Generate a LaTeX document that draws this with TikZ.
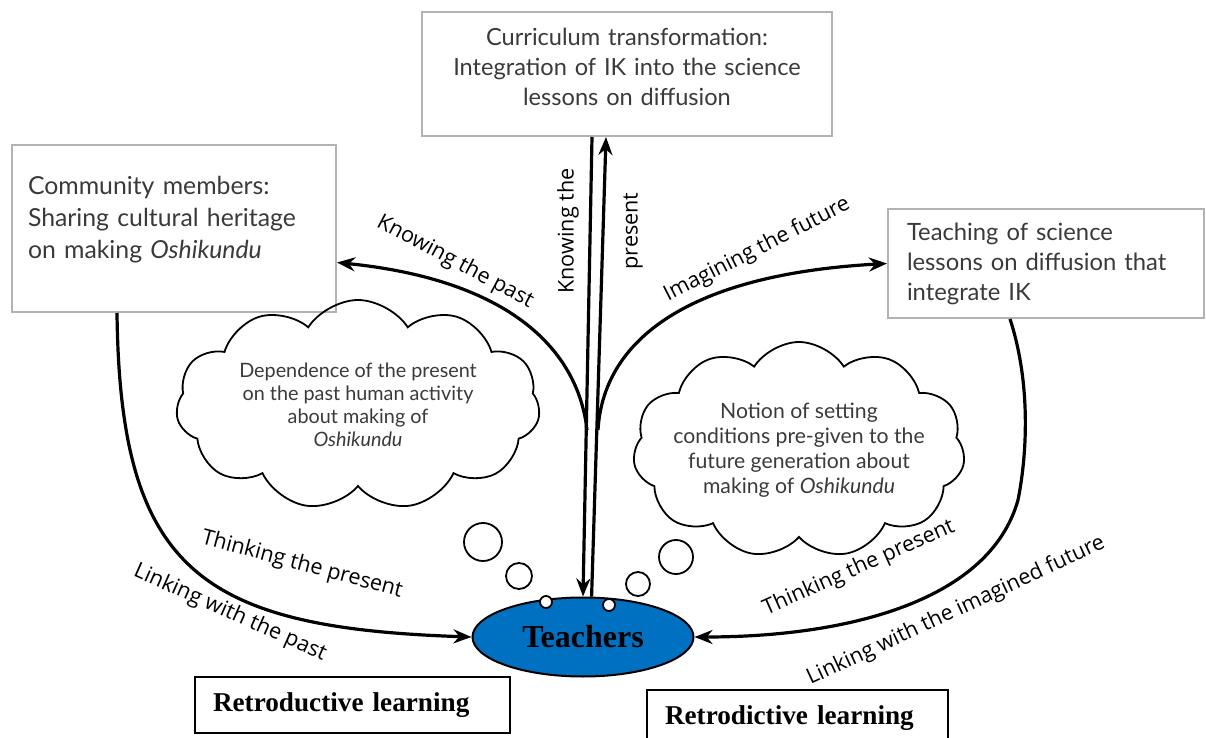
\documentclass[tikz,border=0pt]{standalone}
\usepackage{fontspec}
\setmainfont{Lato}
\newfontfamily\lblfont{Open Sans}
\newfontfamily\titlefont{Liberation Serif}
\usepackage{tikz}
\usetikzlibrary{shapes.geometric,shapes.symbols,arrows.meta}
\definecolor{teachblue}{HTML}{0070C0}
\definecolor{boxtext}{HTML}{3A3A3A}

\begin{document}
\begin{tikzpicture}[x=0.5pt, y=-0.5pt,
    infobox/.style={draw=gray!60, line width=1pt, fill=white, text=boxtext, inner xsep=8pt, align=left},
    thought/.style={cloud, draw, line width=0.9pt, cloud puffs=11, cloud puff arc=115, cloud ignores aspect, inner xsep=-10pt, inner ysep=-2pt, text=boxtext, align=center},
    bubble/.style={circle, draw, line width=0.9pt, fill=white, inner sep=0pt},
    learnbox/.style={draw, line width=0.8pt, fill=white, align=left, inner xsep=9pt, font=\titlefont\bfseries\fontsize{13.6}{15}\selectfont},
    flow/.style={line width=1.6pt, -{Stealth[length=9pt, width=7pt]}},
    lbl/.style={font=\lblfont\fontsize{10.8}{13}\selectfont, inner sep=1pt}
]
\useasboundingbox (0,0) rectangle (1206,738);

\node[infobox, align=center, text width=189pt, minimum height=62pt, font=\fontsize{11.8}{15}\selectfont](curr) at (627,74) {Curriculum transformation:\\Integration of IK into the science\\lessons on diffusion\par\vspace*{7pt}};
\node[infobox, text width=146pt, minimum height=83.5pt, font=\fontsize{12.4}{16}\selectfont](comm) at (174,228.5) {Community members:\\Sharing cultural heritage\\on making \textit{Oshikundu}\par\vspace*{8.5pt}};
\node[infobox, text width=139pt, inner xsep=9.5pt, minimum height=54.5pt, font=\fontsize{11.9}{15}\selectfont](teach) at (1046,263.5) {Teaching of science\\lessons on diffusion that\\integrate IK};

\node[thought, minimum width=182pt, minimum height=105pt, font=\fontsize{9.9}{11.5}\selectfont](pastcloud) at (358,405) {Dependence of the present\\on the past human activity\\about making of\\\textit{Oshikundu}};
\node[thought, minimum width=166pt, minimum height=108pt, font=\fontsize{10.6}{12.5}\selectfont](futcloud) at (799,450) {Notion of setting\\conditions pre-given to the\\future generation about\\making of \textit{Oshikundu}};

\node[bubble, minimum size=19pt](bubL1) at (483,542) {};
\node[bubble, minimum size=13pt](bubL2) at (519,576) {};
\node[bubble, minimum size=17pt](bubR1) at (676,557) {};
\node[bubble, minimum size=12pt](bubR2) at (638,584) {};

\node[ellipse, draw, line width=1pt, fill=teachblue, minimum width=110.5pt, minimum height=39.5pt, font=\titlefont\bfseries\fontsize{16}{18}\selectfont](teachers) at (583,637) {Teachers};
\node[bubble, minimum size=6pt](bubL3) at (546,602) {};
\node[bubble, minimum size=6pt](bubR3) at (609,605) {};

\coordinate (forkL) at (587,430);
\coordinate (forkR) at (598,430);

\draw[flow] ([xshift=-17.5pt]curr.south) -- (teachers.north);
\draw[flow] (teachers.78) -- ([xshift=-10.5pt]curr.south);
\draw[flow] (forkL) .. controls (578,350) and (510,280) .. ([yshift=-17pt]comm.east);
\draw[flow] (forkR) .. controls (603,345) and (680,275) .. (teach.west);
\draw[flow] ([xshift=-28.5pt]comm.south) .. controls (120,570) and (200,628) .. (teachers.west);
\draw[flow] ([xshift=-18pt]teach.south) .. controls (1030,380) and (1028,450) .. (1018,500) .. controls (990,600) and (850,637) .. (teachers.east);

\node[lbl, rotate=-28](kpast) at (455,262) {Knowing the past};
\node[lbl, rotate=90, align=center](kpres) at (600,231) {Knowing the\\[19pt]present};
\node[lbl, rotate=27](imag) at (757,250) {Imagining the future};
\node[lbl, rotate=-15](thinkL) at (302,565) {Thinking the present};
\node[lbl, rotate=-24](linkL) at (230,613) {Linking with the past};
\node[lbl, rotate=24](thinkR) at (859,568) {Thinking the present};
\node[lbl, rotate=25](linkR) at (956,611) {Linking with the imagined future};

\node[learnbox, text width=139.5pt, minimum height=28pt](retro) at (352.5,705) {Retroductive learning};
\node[learnbox, text width=132.5pt, minimum height=28pt](retrod) at (797.5,718) {Retrodictive learning};
\end{tikzpicture}
\end{document}
